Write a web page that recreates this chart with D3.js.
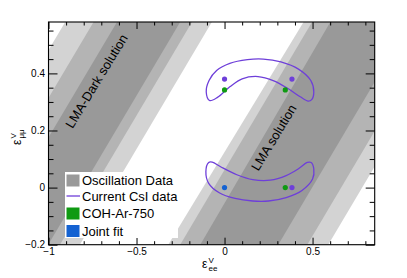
<!DOCTYPE html>
<html><head><meta charset="utf-8">
<script src="https://cdn.jsdelivr.net/npm/d3@7"></script>
<style>body{margin:0;background:#fff}svg{display:block}text{font-family:"Liberation Sans",Arial,sans-serif}</style>
</head><body><svg id="c" width="407" height="278"></svg>
<script>
// ---- data ----
const xDomain = [-1, 0.853];
const yDomain = [-0.2, 0.58];
const xMajor = [-1, -0.5, 0, 0.5];
const xMinor = [-0.9,-0.8,-0.7,-0.6,-0.4,-0.3,-0.2,-0.1,0.1,0.2,0.3,0.4,0.6,0.7,0.8];
const yMajor = [-0.2, 0, 0.2, 0.4];
const yMinor = [-0.15,-0.1,-0.05,0.05,0.1,0.15,0.25,0.3,0.35,0.45,0.5,0.55];
// oscillation bands: boundary x at y = -0.2 (bottom) and y = 0.58 (top)
// order: light-left, mid-left, dark-left, dark-right, mid-right, light-right
const bandY = [-0.2, 0.58];
const lmaBottom = [-0.320, -0.252, -0.138, 0.305, 0.470, 0.589];
const lmaTop    = [0.449, 0.497, 0.601, 1.055, 1.220, 1.340];
const darkBottom = [-1.655, -1.494, -1.361, -1.002, -0.935, -0.822];
const darkTop    = [-0.905, -0.744, -0.611, -0.252, -0.185, -0.072];
const bandColors = ["#d3d3d3", "#b4b4b4", "#999999"];
// CsI contours
const upperContour = [[-0.085,0.305],[-0.104,0.335],[-0.088,0.375],[-0.045,0.410],[0.03,0.435],[0.13,0.448],[0.22,0.450],[0.32,0.440],[0.42,0.415],[0.49,0.375],[0.507,0.335],[0.495,0.308],[0.475,0.303],[0.43,0.318],[0.36,0.347],[0.28,0.374],[0.19,0.389],[0.10,0.381],[0.03,0.353],[-0.04,0.316]];
const lowerContour = [[-0.09,0.088],[-0.106,0.056],[-0.09,0.015],[-0.03,-0.018],[0.06,-0.038],[0.16,-0.047],[0.25,-0.047],[0.35,-0.035],[0.44,-0.01],[0.50,0.03],[0.507,0.065],[0.492,0.088],[0.47,0.088],[0.42,0.066],[0.35,0.042],[0.26,0.026],[0.16,0.028],[0.07,0.045],[-0.02,0.072],[-0.07,0.089]];
const cslPoints = [[0,0.380],[0.383,0.380],[0.383,0]];
const cohPoints = [[0,0.342],[0.345,0.342],[0.345,0]];
const jointPoints = [[0,0]];
const legendLabels = ["Oscillation Data","Current CsI data","COH-Ar-750","Joint fit"];
const colPurple = "#6e3fd9", colGreen = "#0f9a12", colBlue = "#1462d2";

// ---- layout ----
const L = 48.5, R = 374.7, T = 22, B = 244.7;
const x = d3.scaleLinear().domain(xDomain).range([L, R]);
const y = d3.scaleLinear().domain(yDomain).range([B, T]);
const svg = d3.select("#c");
svg.append("defs").append("clipPath").attr("id","clip").append("rect")
  .attr("x",L).attr("y",T).attr("width",R-L).attr("height",B-T);
const g = svg.append("g").attr("clip-path","url(#clip)");

function bandPoly(bot, top, i, j){
  return [[x(bot[i]),y(bandY[0])],[x(top[i]),y(bandY[1])],[x(top[j]),y(bandY[1])],[x(bot[j]),y(bandY[0])]];
}
[[darkBottom,darkTop],[lmaBottom,lmaTop]].forEach(([bot,top])=>{
  [[0,5],[1,4],[2,3]].forEach(([i,j],k)=>{
    g.append("path").attr("d", d3.line()(bandPoly(bot,top,i,j))+"Z").attr("fill",bandColors[k]);
  });
});

// band labels
const ang = -Math.atan2(y(bandY[0])-y(bandY[1]), x(lmaTop[0])-x(lmaBottom[0]))*180/Math.PI;
svg.append("text").attr("transform",`translate(${x(-0.722)},${y(0.371)}) rotate(${ang})`)
  .attr("text-anchor","middle").attr("dominant-baseline","middle").attr("font-size",13).text("LMA-Dark solution");
svg.append("text").attr("transform",`translate(${x(0.285)},${y(0.173)}) rotate(${ang})`)
  .attr("text-anchor","middle").attr("dominant-baseline","middle").attr("font-size",13).text("LMA solution");

// contours
const cl = d3.line().x(d=>x(d[0])).y(d=>y(d[1])).curve(d3.curveCatmullRomClosed.alpha(0.5));
[upperContour, lowerContour].forEach(c=>{
  g.append("path").attr("d",cl(c)).attr("fill","none").attr("stroke",colPurple).attr("stroke-width",1.3);
});
function dots(arr,col){ arr.forEach(p=>g.append("circle").attr("cx",x(p[0])).attr("cy",y(p[1])).attr("r",2.6).attr("fill",col)); }
dots(cslPoints,colPurple); dots(cohPoints,colGreen); dots(jointPoints,colBlue);

// axes
const fmt = d3.format("~g");
const ax = svg.append("g");
ax.append("g").attr("transform",`translate(0,${B})`).call(d3.axisBottom(x).tickValues(xMajor).tickSize(-7).tickPadding(3).tickFormat(fmt));
ax.append("g").attr("transform",`translate(0,${B})`).call(d3.axisBottom(x).tickValues(xMinor).tickSize(-3.5).tickFormat(""));
ax.append("g").attr("transform",`translate(0,${T})`).call(d3.axisTop(x).tickValues(xMajor).tickSize(-7).tickFormat(""));
ax.append("g").attr("transform",`translate(0,${T})`).call(d3.axisTop(x).tickValues(xMinor).tickSize(-3.5).tickFormat(""));
ax.append("g").attr("transform",`translate(${L},0)`).call(d3.axisLeft(y).tickValues(yMajor).tickSize(-9).tickPadding(3.5).tickFormat(fmt));
ax.append("g").attr("transform",`translate(${L},0)`).call(d3.axisLeft(y).tickValues(yMinor).tickSize(-5).tickFormat(""));
ax.append("g").attr("transform",`translate(${R},0)`).call(d3.axisRight(y).tickValues(yMajor).tickSize(-9).tickFormat(""));
ax.append("g").attr("transform",`translate(${R},0)`).call(d3.axisRight(y).tickValues(yMinor).tickSize(-5).tickFormat(""));
ax.selectAll(".domain").remove();
ax.selectAll("text").attr("font-size",10).attr("font-family","Liberation Sans, Arial, sans-serif").attr("fill","#000");
ax.selectAll("line").attr("stroke","#000");
svg.append("rect").attr("x",L).attr("y",T).attr("width",R-L).attr("height",B-T).attr("fill","none").attr("stroke","#000").attr("stroke-width",1.1);

// axis titles
function epsLabel(gx, sub){
  gx.append("text").attr("x",0).attr("y",0).attr("font-size",12).text("ε");
  gx.append("text").attr("x",6.5).attr("y",-5).attr("font-size",8).text("V");
  gx.append("text").attr("x",6.5).attr("y",3).attr("font-size",8).text(sub);
}
epsLabel(svg.append("g").attr("transform","translate(202,268)"), "ee");
epsLabel(svg.append("g").attr("transform","translate(21,145) rotate(-90)"), "μμ");

// legend
const lg = svg.append("g");
lg.append("rect").attr("x",65).attr("y",172).attr("width",113).attr("height",66).attr("fill","#fff");
const rows = [180.5, 196, 213.5, 231];
lg.append("rect").attr("x",66.5).attr("y",rows[0]-6).attr("width",13).attr("height",12).attr("fill","#999999");
lg.append("line").attr("x1",66.5).attr("x2",80).attr("y1",rows[1]).attr("y2",rows[1]).attr("stroke",colPurple).attr("stroke-width",1.3);
lg.append("rect").attr("x",66.5).attr("y",rows[2]-6).attr("width",13).attr("height",12).attr("fill",colGreen);
lg.append("rect").attr("x",66.5).attr("y",rows[3]-6).attr("width",13).attr("height",12).attr("fill",colBlue);
legendLabels.forEach((t,i)=>lg.append("text").attr("x",82).attr("y",rows[i]).attr("dy","0.36em").attr("font-size",13).text(t));
</script></body></html>
